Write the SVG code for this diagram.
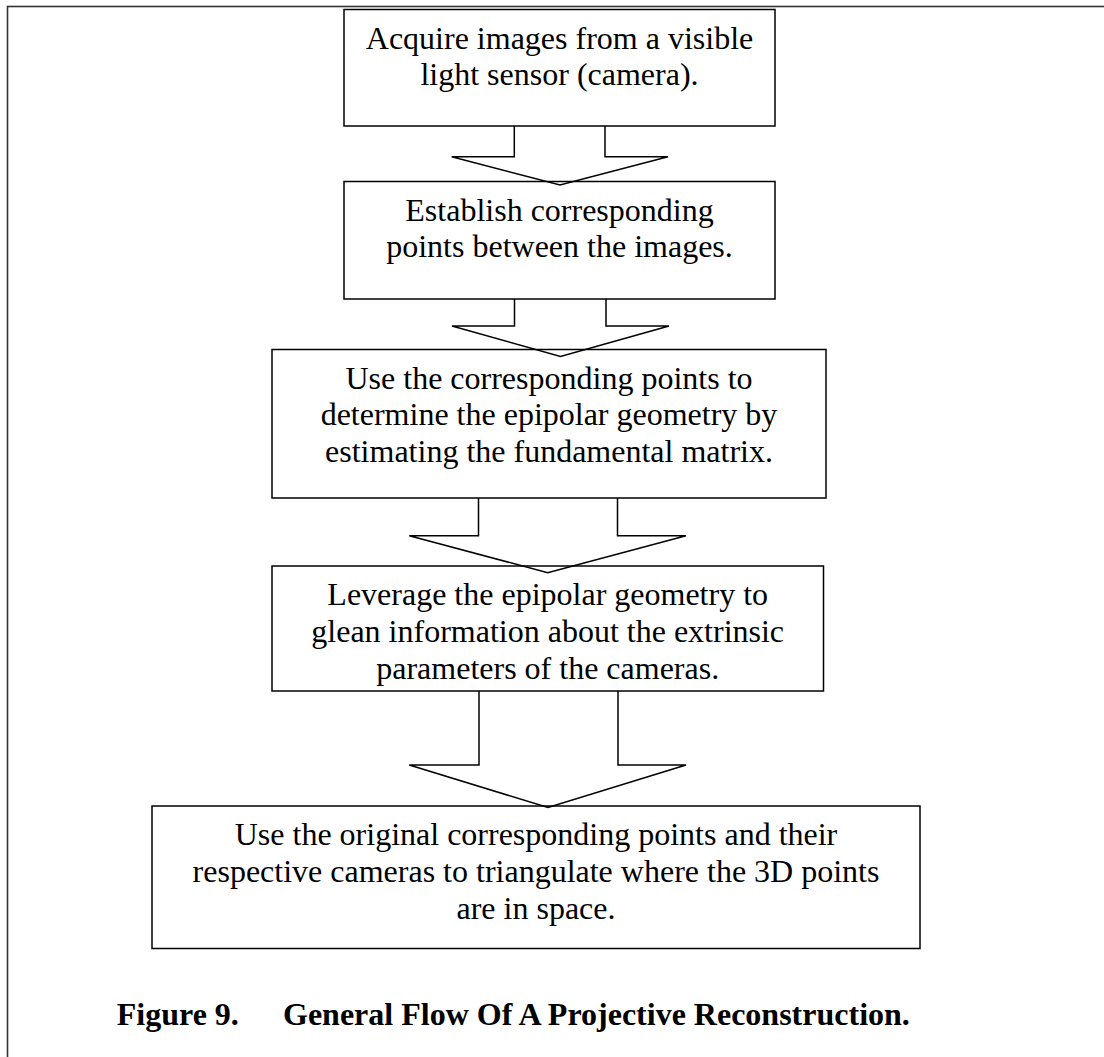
<svg xmlns="http://www.w3.org/2000/svg" width="1104" height="1057" viewBox="0 0 1104 1057">
<style>
.frame{fill:none;stroke:#333;stroke-width:1.6}
.box{fill:#fff;stroke:#000;stroke-width:1.5}
.arr{fill:none;stroke:#000;stroke-width:1.5;stroke-linejoin:miter}
.t{font-family:"Liberation Serif","Times New Roman",serif;font-size:32px;fill:#000;text-anchor:middle}
.cap{font-family:"Liberation Serif","Times New Roman",serif;font-size:32px;font-weight:bold;fill:#000}
</style>
<rect class="frame" x="7.5" y="6.5" width="1200" height="1200"/>
<g id="n1">
<rect class="box" x="344" y="9.5" width="431" height="116.5"/>
<text class="t" x="559.5" y="48.5">Acquire images from a visible</text>
<text class="t" x="559.5" y="85.3">light sensor (camera).</text>
</g>
<g id="n2">
<rect class="box" x="344" y="181.5" width="431" height="117.5"/>
<text class="t" x="559.5" y="220.5">Establish corresponding</text>
<text class="t" x="559.5" y="257.3">points between the images.</text>
</g>
<g id="n3">
<rect class="box" x="272" y="349.5" width="554" height="148.5"/>
<text class="t" x="549" y="388.5">Use the corresponding points to</text>
<text class="t" x="549" y="425.3">determine the epipolar geometry by</text>
<text class="t" x="549" y="462.1">estimating the fundamental matrix.</text>
</g>
<g id="n4">
<rect class="box" x="272" y="566" width="551.5" height="125"/>
<text class="t" x="547.7" y="605">Leverage the epipolar geometry to</text>
<text class="t" x="547.7" y="641.8">glean information about the extrinsic</text>
<text class="t" x="547.7" y="678.6">parameters of the cameras.</text>
</g>
<g id="n5">
<rect class="box" x="152" y="806" width="768" height="142.5"/>
<text class="t" x="536" y="845">Use the original corresponding points and their</text>
<text class="t" x="536" y="881.8">respective cameras to triangulate where the 3D points</text>
<text class="t" x="536" y="918.6">are in space.</text>
</g>
<g id="connectors">
<path class="arr" d="M514.3,126 V156.7 H451.7 L560,185 L668,156.7 H605 V126"/>
<path class="arr" d="M514.5,299 V326 H452 L560.5,356.5 L669,326 H606 V299"/>
<path class="arr" d="M478.5,498 V535.7 H409.3 L547.7,572.7 L686,535.7 H617.5 V498"/>
<path class="arr" d="M479,691 V765 H409.3 L548,807.5 L686,765 H618 V691"/>
</g>
<text class="cap" x="116.8" y="1025">Figure 9.</text>
<text class="cap" x="283" y="1025">General Flow Of A Projective Reconstruction.</text>
</svg>
